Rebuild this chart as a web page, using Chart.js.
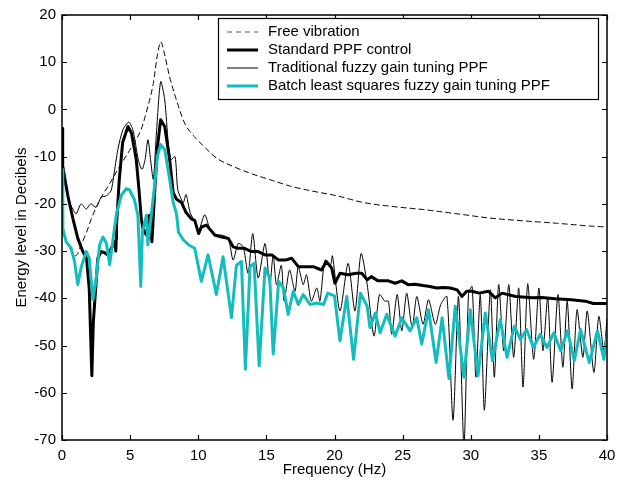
<!DOCTYPE html>
<html>
<head>
<meta charset="utf-8">
<script src="https://cdn.jsdelivr.net/npm/chart.js@4/dist/chart.umd.min.js"></script>
<style>
  html, body { margin: 0; padding: 0; background: #fff; }
  #wrap { width: 626px; height: 490px; }
</style>
</head>
<body>
<div id="wrap"><canvas id="c" width="626" height="490"></canvas></div>
<script>
// values (Hz, dB)
const freeHz = [0, 0.5, 1.0, 1.4, 1.8, 2.2, 2.6, 3.0, 3.4, 3.8, 4.1, 4.5, 4.85, 5.3, 5.8, 6.3, 6.7, 7.0, 7.25, 7.5, 7.9, 8.4, 9.0, 9.7, 10.4, 11.3, 12.5, 14, 15.3, 16.7, 18.4, 20.2, 22.1, 24.1, 26.5, 29, 31.4, 33.9, 36.3, 38.8, 40];
const freeDb = [-26, -29, -31, -28.7, -26, -22.8, -20.2, -18, -16.2, -14.2, -12.7, -10.8, -9.2, -7.0, -4.3, 0.6, 5.5, 11.5, 14.3, 12, 6.9, 2.0, -2.9, -5.7, -7.8, -10.2, -12, -13.7, -14.9, -16.2, -17.3, -18.3, -19.7, -20.5, -21.2, -22.1, -23, -23.6, -24.1, -24.7, -24.9];

const ppfHz = [0, 0.05, 0.43, 0.8, 1.16, 1.53, 1.8, 2.0, 2.19, 2.3, 2.39, 2.63, 2.88, 3.1, 3.37, 3.6, 3.86, 3.95, 3.98, 4.0, 4.2, 4.45, 4.84, 5.1, 5.45, 5.65, 5.82, 5.94, 6.2, 6.43, 6.6, 6.8, 7.0, 7.24, 7.54, 7.9, 8.16, 8.4, 8.77, 9.1, 9.5, 9.74, 10.03, 10.23, 10.6, 11.21, 11.7, 12.2, 12.56, 12.93, 13.4, 13.9, 14.4, 14.9, 15.4, 15.9, 16.4, 16.85, 17.34, 17.8, 18.44, 19.05, 19.4, 19.8, 20.03, 20.4, 21, 21.6, 22, 22.4, 22.7, 23.2, 23.96, 24.45, 24.94, 25.4, 25.9, 26.5, 27, 27.5, 28, 28.5, 29, 29.35, 29.7, 30.1, 30.6, 31.3, 31.8, 32.3, 33.3, 34.5, 35.2, 36.2, 37.4, 38.4, 39, 40];
const ppfDb = [-4, -12, -18.3, -23.1, -27.3, -30.1, -31.5, -38, -56.4, -45, -41.3, -31.5, -30.1, -30.3, -30.8, -29.5, -28, -30, -27.4, -24.5, -15, -7, -3.6, -5, -10.6, -17, -23.2, -25.2, -26.6, -22.4, -28, -17.6, -8, -2.2, -3.6, -10.6, -17.6, -19, -19.7, -21.8, -23.2, -23.5, -26.3, -24.9, -24.5, -26.6, -27, -27.3, -29.1, -29.4, -29.4, -30.1, -30.1, -30.8, -30.8, -31.9, -31.9, -31.5, -33.3, -33.3, -33.3, -34, -32.2, -33.6, -36.8, -34.7, -35, -34.7, -34.7, -36.1, -35.4, -36.3, -36.3, -36.8, -36.3, -37.1, -37, -37.3, -37.5, -37.8, -37.7, -37.8, -38.2, -39.6, -38.5, -38.5, -38.9, -38.5, -39.9, -38.9, -39.6, -39.9, -39.8, -40.1, -40.3, -40.6, -41.1, -41.1];

const tradHz = [0, 0.05, 0.3, 0.55, 0.8, 1.04, 1.4, 1.78, 2.1, 2.5, 2.88, 3.25, 3.6, 3.8, 4.1, 4.47, 4.9, 5.2, 5.6, 5.87, 6.1, 6.31, 6.5, 6.7, 6.93, 7.24, 7.54, 7.8, 8.0, 8.3, 8.5, 8.9, 9.1, 9.4, 9.74, 10.0, 10.47, 10.84, 11.2, 11.7, 12.2, 12.56, 12.93, 13.3, 13.66, 14.0, 14.4, 14.9, 15.25, 15.5, 15.74, 16.1, 16.3, 16.7, 17.1, 17.34, 17.7, 17.95, 18.3, 18.7, 18.93, 19.3, 19.7, 19.85, 20.4, 21, 21.5, 21.95, 22.4, 22.9, 23.3, 23.7, 23.96, 24.2, 24.6, 24.94, 25.3, 25.7, 26.04, 26.5, 26.9, 27.4, 27.8, 28.25, 28.7, 29.1, 29.5, 29.84, 30.1, 30.38, 30.7, 31.0, 31.44, 31.73, 32.05, 32.42, 32.79, 33.15, 33.52, 33.84, 34.18, 34.62, 35.0, 35.3, 35.65, 35.97, 36.4, 36.76, 37.08, 37.44, 37.8, 38.23, 38.55, 39.04, 39.4, 39.77, 40];
const tradDb = [-4, -12, -17, -19.7, -21.1, -22.1, -20, -21.1, -20, -20.7, -18.6, -18.3, -17.2, -14, -8.5, -4.3, -2.7, -4.3, -10.6, -12.7, -10.6, -6.4, -10.6, -14.8, -5, 5.9, 2, -7.1, -10.6, -10, -17, -19.7, -18, -21.8, -23.8, -26, -22.3, -25.2, -26.6, -26.6, -27.3, -31.9, -28.4, -29.1, -34.7, -26.3, -35.7, -28.4, -37.1, -30.8, -37.1, -33, -40.6, -34, -38.5, -33.3, -37.1, -35, -40.6, -37.8, -40.6, -31.9, -33, -31, -42.7, -32.6, -42.7, -30.5, -37.1, -48, -39.2, -40.6, -40.6, -47.6, -39.2, -46.9, -38.9, -46.2, -39.6, -45.5, -40.3, -45.5, -41.3, -39.6, -65.8, -39.6, -71, -38.9, -37.5, -56.7, -39.2, -63.7, -38.2, -56.7, -37.1, -51.1, -37.1, -52.5, -37.8, -58.8, -36.9, -52.9, -37.8, -51.1, -39.9, -57.8, -39.2, -54.6, -40.6, -59.2, -42.4, -52.5, -42.7, -55.7, -43.8, -51.1, -44.3];

const blsHz = [0, 0.06, 0.3, 0.67, 0.92, 1.16, 1.4, 1.78, 2.0, 2.27, 2.5, 2.76, 3.0, 3.25, 3.5, 3.74, 3.98, 4.35, 4.72, 4.95, 5.3, 5.57, 5.78, 5.9, 6.2, 6.3, 6.55, 6.8, 7.0, 7.24, 7.54, 7.9, 8.16, 8.4, 8.55, 8.9, 9.3, 9.74, 10.23, 10.72, 11.33, 11.82, 12.44, 12.8, 13.17, 13.46, 13.8, 14.1, 14.47, 14.9, 15.25, 15.5, 15.9, 16.25, 16.6, 16.97, 17.34, 17.7, 18.2, 18.7, 19.2, 19.5, 20.0, 20.4, 20.9, 21.4, 21.9, 22.4, 22.6, 23.0, 23.35, 23.83, 24.45, 24.94, 25.55, 26.04, 26.4, 26.9, 27.46, 27.9, 28.4, 28.86, 29.5, 29.97, 30.53, 31.07, 31.6, 32.17, 32.66, 33.2, 33.64, 34.1, 34.6, 35.1, 35.6, 36.1, 36.6, 37.1, 37.6, 38.06, 38.7, 39.3, 39.77, 40];
const blsDb = [-12.7, -25.2, -28, -29.4, -32.2, -37.1, -33.5, -30.1, -31.5, -40.3, -36, -28.7, -27, -28.3, -32.9, -27.6, -22.4, -18.2, -16.8, -17, -19, -22.4, -37.5, -26, -22.4, -28.7, -22.4, -16, -10, -7.4, -8.5, -14.8, -19.7, -22, -26, -27.6, -28.7, -29.4, -36.4, -30.8, -39.2, -31.2, -44.1, -33, -32.2, -55, -33.3, -32.6, -54.3, -33.6, -35.7, -51.8, -36.4, -37.8, -43.4, -38.5, -41.3, -39.2, -41.3, -41, -41.3, -38.9, -39.5, -49, -39.6, -52.9, -38.9, -41.7, -46.2, -43.1, -47.3, -43.4, -48, -44.1, -46.9, -44.1, -49.7, -42.4, -53.6, -44.1, -57, -41.7, -56.7, -42.4, -56.4, -43.1, -53.2, -44.5, -52.5, -45.9, -48.7, -46.6, -50.4, -47.6, -50.4, -47.3, -51.1, -46.9, -53.2, -46.6, -53.6, -46.9, -52.9, -48];

const xTicks = [0, 5, 10, 15, 20, 25, 30, 35, 40];
const yTicks = [-70, -60, -50, -40, -30, -20, -10, 0, 10, 20];

const FONT = "'Liberation Sans', Arial, Helvetica, sans-serif";
const CYAN = '#14bdbd';

const pts = (xs, ys) => xs.map((v, i) => ({ x: v, y: ys[i] }));

// legend entries, same order as the figure
const legendItems = [
  { text: 'Free vibration', color: '#555', width: 1, dash: [5, 4] },
  { text: 'Standard PPF control', color: '#000', width: 3, dash: [] },
  { text: 'Traditional fuzzy gain tuning PPF', color: '#000', width: 1, dash: [] },
  { text: 'Batch least squares fuzzy gain tuning PPF', color: CYAN, width: 3, dash: [] },
];

// box around the plot, inward ticks on all four sides, legend box
const boxPlugin = {
  id: 'boxPlugin',
  afterDraw(chart) {
    const { ctx, chartArea: a, scales: { x, y } } = chart;
    const len = 5;
    ctx.save();
    ctx.strokeStyle = '#000';
    ctx.lineWidth = 1.2;
    ctx.setLineDash([]);
    ctx.beginPath();
    xTicks.forEach(v => {
      const px = Math.round(x.getPixelForValue(v)) + 0.5;
      ctx.moveTo(px, a.bottom); ctx.lineTo(px, a.bottom - len);
      ctx.moveTo(px, a.top); ctx.lineTo(px, a.top + len);
    });
    yTicks.forEach(v => {
      const py = Math.round(y.getPixelForValue(v)) + 0.5;
      ctx.moveTo(a.left, py); ctx.lineTo(a.left + len, py);
      ctx.moveTo(a.right, py); ctx.lineTo(a.right - len, py);
    });
    ctx.stroke();
    ctx.lineWidth = 1.5;
    ctx.strokeRect(a.left, a.top, a.right - a.left, a.bottom - a.top);

    // legend
    const lx = 218, ly = 18, lw = 380, lh = 81;
    ctx.fillStyle = '#fff';
    ctx.fillRect(lx, ly, lw, lh);
    ctx.lineWidth = 1.2;
    ctx.strokeStyle = '#000';
    ctx.strokeRect(lx + 0.5, ly + 0.5, lw, lh);
    ctx.font = '15px ' + FONT;
    ctx.textBaseline = 'middle';
    ctx.textAlign = 'left';
    legendItems.forEach((it, i) => {
      const yy = ly + 14 + i * 18;
      ctx.strokeStyle = it.color;
      ctx.lineWidth = it.width;
      ctx.setLineDash(it.dash);
      ctx.beginPath();
      ctx.moveTo(lx + 9, yy);
      ctx.lineTo(lx + 40, yy);
      ctx.stroke();
      ctx.setLineDash([]);
      ctx.fillStyle = '#000';
      ctx.fillText(it.text, lx + 50, yy);
    });
    ctx.restore();
  }
};

new Chart(document.getElementById('c'), {
  type: 'line',
  data: {
    datasets: [
      { label: legendItems[3].text, data: pts(blsHz, blsDb), borderColor: CYAN, borderWidth: 3 },
      { label: legendItems[1].text, data: pts(ppfHz, ppfDb), borderColor: '#000', borderWidth: 3 },
      { label: legendItems[2].text, data: pts(tradHz, tradDb), borderColor: '#000', borderWidth: 1, tension: 0.25 },
      { label: legendItems[0].text, data: pts(freeHz, freeDb), borderColor: '#000', borderWidth: 1,
        borderDash: [5, 4], cubicInterpolationMode: 'monotone' },
    ]
  },
  options: {
    responsive: false,
    animation: false,
    devicePixelRatio: 1,
    layout: { padding: { top: 11, right: 19, left: 0, bottom: 0 } },
    elements: { point: { radius: 0 }, line: { tension: 0, borderJoinStyle: 'round', borderCapStyle: 'round' } },
    plugins: { legend: { display: false }, tooltip: { enabled: false } },
    scales: {
      x: {
        type: 'linear', min: 0, max: 40,
        afterFit(s) { s.height = 50; },
        afterBuildTicks(s) { s.ticks = xTicks.map(v => ({ value: v })); },
        grid: { display: false, drawTicks: false },
        border: { display: false },
        ticks: { color: '#000', font: { family: FONT, size: 15 }, padding: 7, maxRotation: 0, autoSkip: false },
        title: { display: true, text: 'Frequency (Hz)', color: '#000', font: { family: FONT, size: 15 }, padding: { top: 0, bottom: 11 } }
      },
      y: {
        type: 'linear', min: -70, max: 20,
        afterFit(s) { s.width = 62; },
        afterBuildTicks(s) { s.ticks = yTicks.map(v => ({ value: v })); },
        grid: { display: false, drawTicks: false },
        border: { display: false },
        ticks: { color: '#000', font: { family: FONT, size: 15 }, padding: 6, autoSkip: false },
        title: { display: true, text: 'Energy level in Decibels', color: '#000', font: { family: FONT, size: 15 }, padding: { top: 13, bottom: 0 } }
      }
    }
  },
  plugins: [boxPlugin]
});
</script>
</body>
</html>
